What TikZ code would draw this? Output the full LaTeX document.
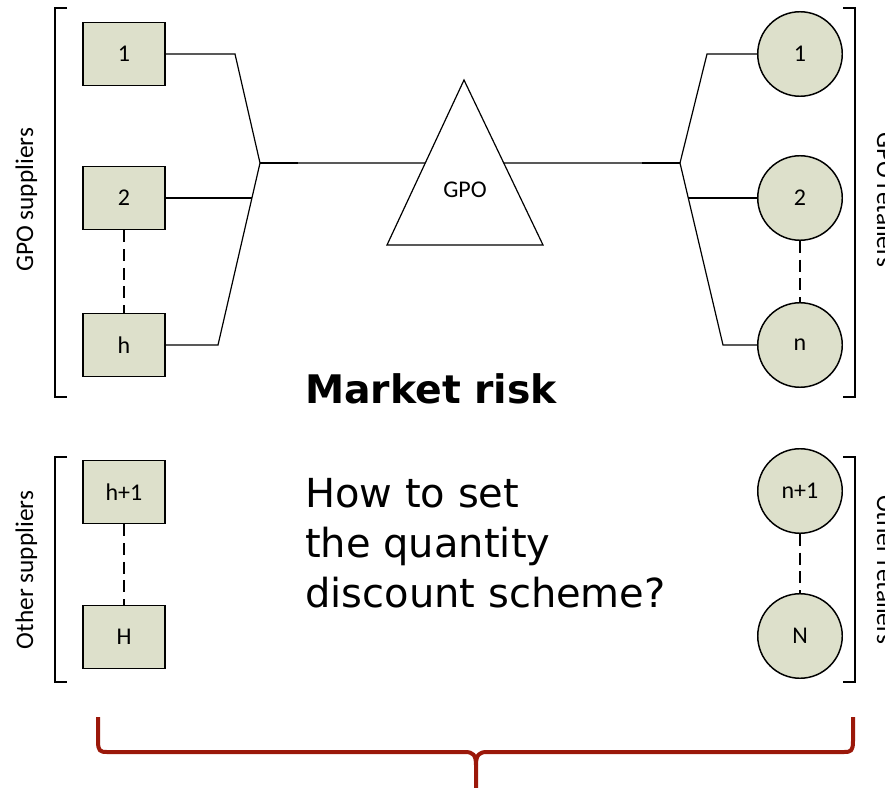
\documentclass[tikz,border=0pt]{standalone}
\usepackage{fontspec}
\setmainfont{Carlito}
\newfontfamily\qfont{DejaVu Sans}
\usetikzlibrary{calc}
\definecolor{boxfill}{RGB}{221,224,203}
\definecolor{bracered}{RGB}{155,24,10}

\begin{document}
\begin{tikzpicture}[x=0.75pt,y=-0.75pt,
   supp/.style={draw,line width=1.1pt,fill=boxfill,minimum width=61.2pt,minimum height=47.6pt,inner sep=0pt,font=\fontsize{18}{21}\selectfont},
   ret/.style={draw,circle,line width=1.1pt,fill=boxfill,minimum size=63.4pt,inner sep=0pt,font=\fontsize{18}{21}\selectfont},
   link/.style={line width=0.9pt},
   gap/.style={line width=0.9pt,dash pattern=on 9pt off 5pt},
   side/.style={anchor=base,inner sep=0pt,font=\fontsize{19}{22}\selectfont},
   brace/.style={line width=3pt,draw=bracered,line join=round}]
   \useasboundingbox (0,0) rectangle (885,788);

   % suppliers
   \node[supp] (s1) at (124,54) {1};
   \node[supp] (s2) at (124,198) {2};
   \node[supp] (sh) at (124,345) {h};
   \node[supp] (sh1) at (124,492) {h+1};
   \node[supp] (sH) at (124,637) {H};
   \draw[gap] (s2.south) -- (sh.north);
   \draw[gap] (sh1.south) -- (sH.north);

   % retailers
   \node[ret] (r1) at (800,54) {1};
   \node[ret] (r2) at (800,198) {2};
   \node[ret] (rn) at (800,345) {n};
   \node[ret] (rn1) at (800,491) {n+1};
   \node[ret] (rN) at (800,636) {N};
   \draw[gap] (r2.south) -- (rn.north);
   \draw[gap] (rn1.south) -- (rN.north);

   % the GPO
   \coordinate (apex) at (464,80);
   \coordinate (bl) at (387,245);
   \coordinate (br) at (543,245);
   \draw[link] (apex) -- (bl) -- (br) -- cycle;
   \node[font=\fontsize{18}{21}\selectfont] (gpo) at (465,190) {GPO};
   \coordinate (gl) at ($(apex)!0.503!(bl)$);
   \coordinate (gr) at ($(apex)!0.503!(br)$);

   % tree on the supplier side
   \coordinate (jl) at (260,163);
   \coordinate (kl1) at (235,54);
   \coordinate (kl2) at (252,198);
   \coordinate (klh) at (218,345);
   \draw[link] (s1.east) -- (kl1) -- (jl) -- (klh) -- (sh.east);
   \draw[link] (s2.east) -- (kl2);
   \draw[link] (jl) -- (gl);
   \draw[line width=1.6pt] (jl) -- ($(jl)+(38,0)$);

   % tree on the retailer side
   \coordinate (jr) at (680,163);
   \coordinate (kr1) at (707,54);
   \coordinate (kr2) at (688,198);
   \coordinate (krn) at (723,345);
   \draw[link] (r1.west) -- (kr1) -- (jr) -- (krn) -- (rn.west);
   \draw[link] (r2.west) -- (kr2);
   \draw[link] (jr) -- (gr);
   \draw[line width=1.6pt] (jr) -- ($(jr)+(-38,0)$);

   % brackets and their labels
   \draw[link] (67,8) -- (55,8) -- (55,397) -- (67,397);
   \draw[link] (67,457) -- (55,457) -- (55,682) -- (67,682);
   \draw[link] (843,8) -- (855,8) -- (855,397) -- (843,397);
   \draw[link] (843,457) -- (855,457) -- (855,682) -- (843,682);
   \node[side,rotate=90] (lgpo) at (33,200) {GPO suppliers};
   \node[side,rotate=90] (loth) at (33,570) {Other suppliers};
   \node[side,rotate=-90] (rgpo) at (877,200) {GPO retailers};
   \node[side,rotate=-90] (roth) at (877,570) {Other retailers};

   % text in the middle
   \node[anchor=base west,inner sep=0pt,font=\qfont\fontsize{29.5}{35}\selectfont\bfseries] (risk) at (305,403) {Market risk};
   \node[anchor=base west,inner sep=0pt,font=\qfont\fontsize{30}{37}\selectfont] (q1) at (305,507) {How to set};
   \node[anchor=base west,inner sep=0pt,font=\qfont\fontsize{30}{37}\selectfont] (q2) at (305,557) {the quantity};
   \node[anchor=base west,inner sep=0pt,font=\qfont\fontsize{30}{37}\selectfont] (q3) at (305,607) {discount scheme?};

   % brace
   \draw[brace] (98,717) -- (98,741) .. controls (98,751) and (100,752) .. (107,752) -- (465,752) .. controls (473,752) and (476,755) .. (476,765) -- (476,792);
   \draw[brace] (853,717) -- (853,741) .. controls (853,751) and (851,752) .. (844,752) -- (487,752) .. controls (479,752) and (476,755) .. (476,765);
\end{tikzpicture}
\end{document}
